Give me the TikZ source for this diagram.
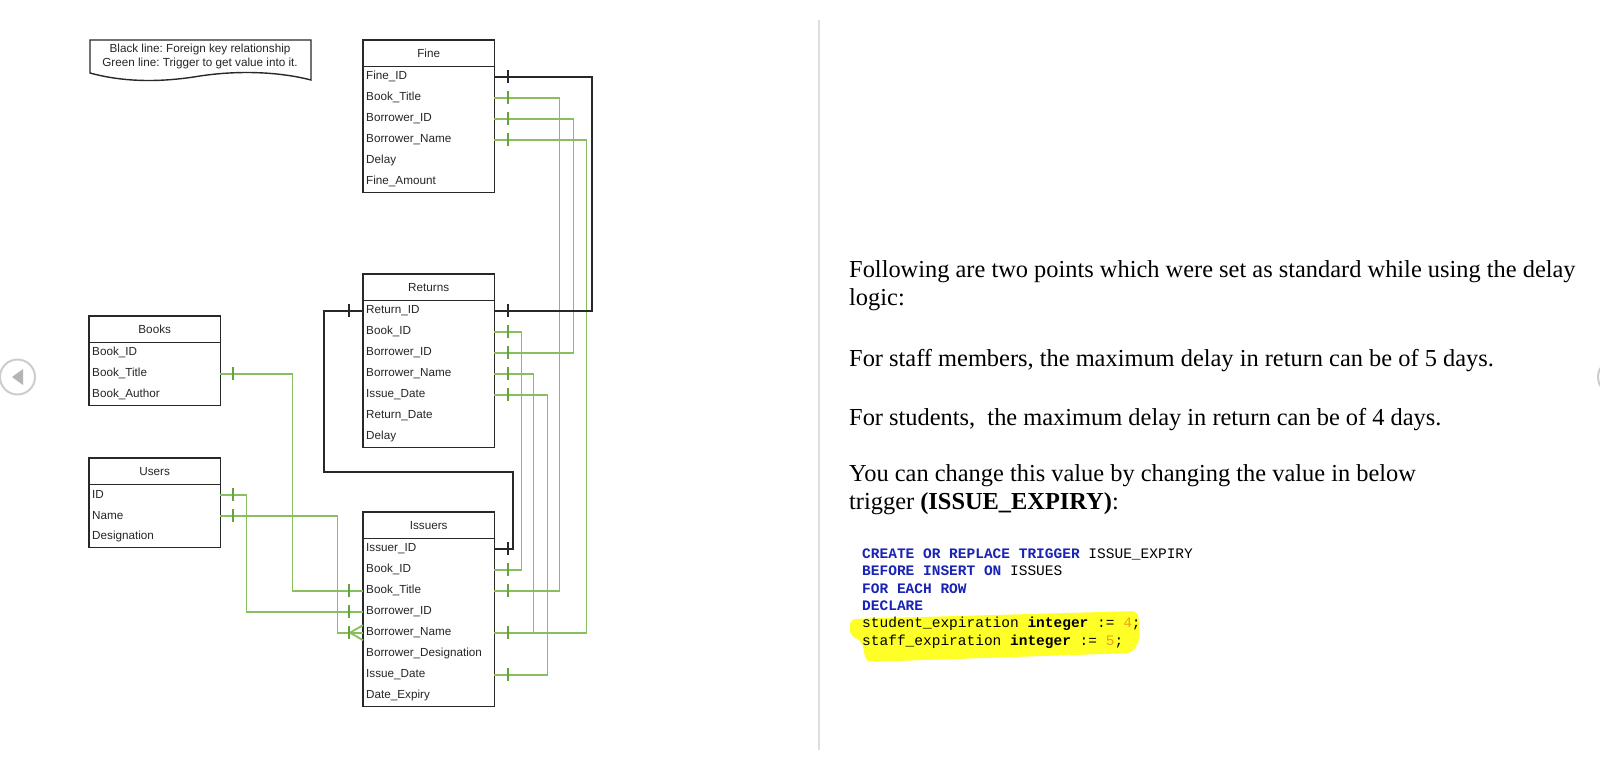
\documentclass[tikz,border=0pt]{standalone}
\usepackage{fontspec}
\setmainfont{Liberation Serif}
\newfontfamily\arialf{Liberation Sans}
\newfontfamily\courf{Liberation Mono}
\usetikzlibrary{calc}
\frenchspacing
\definecolor{gline}{RGB}{137,190,96}
\definecolor{gtickc}{RGB}{100,165,55}
\definecolor{bline}{RGB}{40,40,40}
\definecolor{kwblue}{RGB}{25,35,180}
\definecolor{numorange}{RGB}{235,160,30}
\definecolor{hlyellow}{RGB}{255,255,40}
\definecolor{navgray}{RGB}{205,205,205}
\definecolor{navtri}{RGB}{180,180,180}
\definecolor{divgray}{RGB}{222,222,222}
\tikzset{
  tbox/.style={draw=bline, line width=1.7pt},
  trow/.style={font=\arialf\fontsize{11.7}{13}\selectfont, text width=125pt, inner xsep=3pt, inner ysep=0pt, minimum height=21pt, anchor=north west, align=left, text=black!85},
  ttitle/.style={font=\arialf\fontsize{11.7}{13}\selectfont, minimum width=131pt, minimum height=26pt, inner sep=0pt, anchor=north west, text=black!85},
  gconn/.style={draw=gline, line width=1.8pt},
  bconn/.style={draw=bline, line width=1.9pt},
  gtk/.style={draw=gtickc, line width=2pt},
  btk/.style={draw=bline, line width=2.1pt},
  ptext/.style={font=\fontsize{24.4}{28}\selectfont, anchor=base west, inner sep=0pt},
  ctext/.style={font=\courf\fontsize{14.5}{17}\selectfont, anchor=base west, inner sep=0pt},
  legtext/.style={font=\arialf\fontsize{11.7}{14}\selectfont, align=center, inner sep=0pt, text=black!85},
}
\begin{document}
\begin{tikzpicture}[x=1pt,y=-1pt]
\useasboundingbox[fill=white] (0,0) rectangle (1600,773);

% navigation and divider
\draw[navgray, line width=2pt] (17.5,377) circle (17.5);
\fill[navtri] (12,377) -- (23,369) -- (23,385) -- cycle;
\draw[navgray, line width=2pt] (1616,377) circle (18);
\draw[divgray, line width=1.5pt] (819,20) -- (819,750);

% legend
\draw[tbox, line width=1.4pt] (90,40) -- (311,40) -- (311,80)
  .. controls (280,72) and (240,70) .. (200,76)
  .. controls (170,81) and (130,84) .. (90,73) -- cycle;
\node[legtext] (leg) at (200,56) {Black line: Foreign key relationship\\Green line: Trigger to get value into it.};

% Fine
\node[ttitle] (fi) at (363,40) {Fine};
\node[trow] (fi-id) at (363,66) {Fine\_ID};
\node[trow] (fi-bt) at (363,87) {Book\_Title};
\node[trow] (fi-bid) at (363,108) {Borrower\_ID};
\node[trow] (fi-bn) at (363,129) {Borrower\_Name};
\node[trow] (fi-dl) at (363,150) {Delay};
\node[trow] (fi-fa) at (363,171) {Fine\_Amount};
\draw[tbox] (fi.north west) rectangle (fi-fa.south east);
\draw[tbox] (fi.south west) -- (fi.south east);

% Returns
\node[ttitle] (re) at (363,274) {Returns};
\node[trow] (re-rid) at (363,300) {Return\_ID};
\node[trow] (re-bk) at (363,321) {Book\_ID};
\node[trow] (re-bid) at (363,342) {Borrower\_ID};
\node[trow] (re-bn) at (363,363) {Borrower\_Name};
\node[trow] (re-idt) at (363,384) {Issue\_Date};
\node[trow] (re-rdt) at (363,405) {Return\_Date};
\node[trow] (re-dl) at (363,426) {Delay};
\draw[tbox] (re.north west) rectangle (re-dl.south east);
\draw[tbox] (re.south west) -- (re.south east);

% Issuers
\node[ttitle] (iss) at (363,512) {Issuers};
\node[trow] (iss-iid) at (363,538) {Issuer\_ID};
\node[trow] (iss-bk) at (363,559) {Book\_ID};
\node[trow] (iss-bt) at (363,580) {Book\_Title};
\node[trow] (iss-bid) at (363,601) {Borrower\_ID};
\node[trow] (iss-bn) at (363,622) {Borrower\_Name};
\node[trow] (iss-bd) at (363,643) {Borrower\_Designation};
\node[trow] (iss-idt) at (363,664) {Issue\_Date};
\node[trow] (iss-de) at (363,685) {Date\_Expiry};
\draw[tbox] (iss.north west) rectangle (iss-de.south east);
\draw[tbox] (iss.south west) -- (iss.south east);

% Books
\node[ttitle] (bk) at (89,316) {Books};
\node[trow] (bk-id) at (89,342) {Book\_ID};
\node[trow] (bk-bt) at (89,363) {Book\_Title};
\node[trow] (bk-au) at (89,384) {Book\_Author};
\draw[tbox] (bk.north west) rectangle (bk-au.south east);
\draw[tbox] (bk.south west) -- (bk.south east);

% Users
\node[ttitle] (us) at (89,458) {Users};
\node[trow] (us-id) at (89,484) {ID};
\node[trow] (us-nm) at (89,505) {Name};
\node[trow] (us-ds) at (89,526) {Designation};
\draw[tbox] (us.north west) rectangle (us-ds.south east);
\draw[tbox] (us.south west) -- (us.south east);

% green connectors
\draw[gconn] (bk-bt.east) -- ++(72,0) |- (iss-bt.west);
\draw[gconn] (us-id.east) -- ++(26,0) |- (iss-bid.west);
\draw[gconn] (us-nm.east) -- ++(117,0) |- (iss-bn.west);
\draw[gconn] (fi-bt.east) -- ++(65,0) |- (iss-bt.east);
\draw[gconn] (fi-bid.east) -- ++(79,0) |- (re-bid.east);
\draw[gconn] (fi-bn.east) -- ++(92,0) |- (iss-bn.east);
\draw[gconn] (re-bk.east) -- ++(27,0) |- (iss-bk.east);
\draw[gconn] (re-bn.east) -- ++(39,0) |- (iss-bn.east);
\draw[gconn] (re-idt.east) -- ++(53,0) |- (iss-idt.east);

% black connectors
\coordinate (kink) at (513,472);
\draw[bconn] (fi-id.east) -- ++(98,0) |- (re-rid.east);
\draw[bconn] (re-rid.west) -- ++(-39,0) |- (kink) |- (iss-iid.east);

% ticks
\foreach \n in {fi-bt,fi-bid,fi-bn,re-bk,re-bid,re-bn,re-idt,iss-bk,iss-bt,iss-bn,iss-idt}
  \draw[gtk] ($(\n.east)+(14,-6.5)$) -- ++(0,13);
\foreach \n in {bk-bt,us-id,us-nm}
  \draw[gtk] ($(\n.east)+(13,-6.5)$) -- ++(0,13);
\foreach \n in {iss-bt,iss-bid,iss-bn}
  \draw[gtk] ($(\n.west)+(-14,-6.5)$) -- ++(0,13);
\foreach \n in {fi-id,re-rid,iss-iid}
  \draw[btk] ($(\n.east)+(14,-6.5)$) -- ++(0,13);
\draw[btk] ($(re-rid.west)+(-14,-6.5)$) -- ++(0,13);
% crow's foot
\draw[gconn] ($(iss-bn.west)+(-13,0)$) -- ($(iss-bn.west)+(0,-7.5)$);
\draw[gconn] ($(iss-bn.west)+(-13,0)$) -- ($(iss-bn.west)+(0,7.5)$);

% right text
\node[ptext] (p1) at (849,277) {Following are two points which were set as standard while using the delay};
\node[ptext] (p2) at (849,305) {logic:};
\node[ptext] (p3) at (849,366) {For staff members, the maximum delay in return can be of 5 days.};
\node[ptext] (p4) at (849,425) {For students,\ \ the maximum delay in return can be of 4 days.};
\node[ptext] (p5) at (849,481.5) {You can change this value by changing the value in below};
\node[ptext] (p6) at (849,509) {trigger \textbf{(ISSUE\_EXPIRY)}:};

% highlight
\fill[hlyellow, rounded corners=6pt] (850,619) -- (1138,611) -- (1140,640) -- (1132,653)
  -- (866,662) -- (862,641) -- (850,636) -- cycle;

% code
\node[ctext] (c1) at (862,558) {{\color{kwblue}\bfseries CREATE OR REPLACE TRIGGER} ISSUE\_EXPIRY};
\node[ctext] (c2) at (862,575.5) {{\color{kwblue}\bfseries BEFORE INSERT ON} ISSUES};
\node[ctext] (c3) at (862,593) {{\color{kwblue}\bfseries FOR EACH ROW}};
\node[ctext] (c4) at (862,610) {{\color{kwblue}\bfseries DECLARE}};
\node[ctext] (c5) at (862,627.5) {student\_expiration {\bfseries integer} := {\color{numorange}4};};
\node[ctext] (c6) at (862,645) {staff\_expiration {\bfseries integer} := {\color{numorange}5};};
\end{tikzpicture}
\end{document}
